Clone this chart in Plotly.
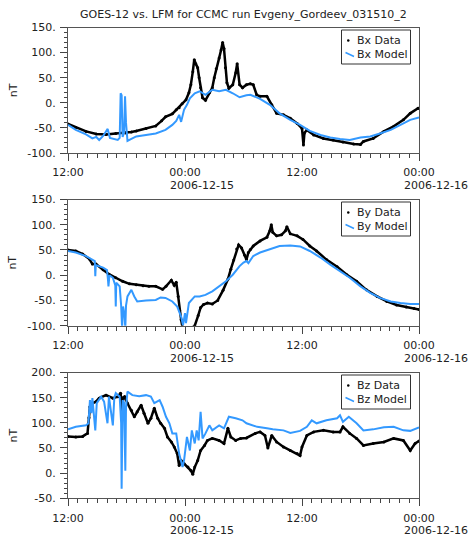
import pandas as pd
import plotly.graph_objects as go

# Time axis: hours elapsed since 2006-12-14 12:00 UT
START = pd.Timestamp("2006-12-14 12:00")

# ---- Bx (nT) ----
bx_data_h = [0, 0.8, 1.85, 2.9, 3.9, 4.9, 5.9, 6.5, 7.0, 8.0, 9.0, 9.6, 10.0, 10.7, 11.1,
             11.4, 11.7, 12.1, 12.4, 12.6, 12.8, 12.95, 13.1, 13.3, 13.45, 13.6, 13.8,
             14.1, 14.5, 14.8, 15.0, 15.2, 15.5, 15.7, 15.86, 16.0, 16.15, 16.3, 16.5,
             16.9, 17.2, 17.35, 17.6, 17.9, 18.3, 18.7, 19.0, 19.35, 19.7, 20.4, 20.9,
             21.4, 22.1, 22.8, 23.5, 24.0, 24.15, 24.25, 24.5, 25.2, 26.2, 27.2, 28.2,
             29.3, 30.0, 30.3, 31.3, 32.4, 33.4, 34.4, 35.1, 35.9, 36.0]
bx_data_v = [-42, -49, -57, -62, -63, -61, -60, -58, -56, -51, -46, -36, -28, -22, -14,
             -10, -2, 6, 20, 36, 62, 86, 78, 70, 50, 30, 10,
             5, 20, 30, 50, 68, 89, 105, 120, 108, 70, 40, 29,
             36, 60, 78, 36, 30, 36, 38, 36, 16, 13, 13, -4,
             -21, -24, -31, -41, -51, -84, -60, -54, -64, -71, -74, -78,
             -82, -83, -77, -71, -57, -47, -34, -21, -11, -11]
bx_model_h = [0, 0.8, 1.85, 2.5, 2.9, 3.2, 3.6, 4.07, 4.3, 4.7, 5.1, 5.3, 5.4, 5.5, 5.6,
              5.75, 5.85, 5.95, 6.1, 6.5, 7.0, 8.0, 9.0, 10.0, 10.7, 11.1, 11.4, 11.6,
              11.9, 12.2, 12.5, 13.0, 13.5, 14.1, 14.8, 15.5, 16.2, 16.9, 17.6, 18.3,
              18.7, 19.7, 20.7, 21.7, 22.8, 23.8, 24.8, 25.9, 26.9, 27.9, 28.9, 30.0,
              31.0, 32.0, 33.1, 34.1, 35.1, 36.0]
bx_model_v = [-44, -54, -63, -71, -68, -74, -66, -52, -70, -72, -74, -70, 19, 15, -68,
              -60, 13, -40, -76, -72, -67, -64, -61, -54, -44, -36, -24, -38,
              -14, -4, 9, 19, 23, 16, 26, 23, 26, 19, 11, 15,
              16, 8, -4, -21, -34, -44, -56, -64, -69, -72, -74, -69,
              -67, -61, -54, -44, -34, -29]

# ---- By (nT) ----
by_data_h = [0, 0.8, 1.5, 2.2, 2.5, 2.87, 3.6, 4.2, 4.9, 5.6, 6.3, 7.0, 7.7, 8.3, 9.0,
             9.7, 10.05, 10.6, 10.9, 11.1, 11.3, 11.45, 11.6, 11.75, 12.0, 12.7, 13.0,
             13.35, 13.6, 13.9, 14.3, 14.8, 15.35, 15.9, 16.4, 16.7, 17.0, 17.3, 17.5,
             17.8, 18.1, 18.3, 18.5, 18.7, 19.0, 19.7, 20.4, 20.7, 20.85, 21.0, 21.4,
             21.9, 22.3, 22.45, 22.8, 23.5, 24.1, 24.8, 25.5, 26.5, 27.6, 28.6, 29.6,
             30.6, 31.7, 32.7, 33.7, 34.7, 35.5, 36.0]
by_data_v = [50, 48, 42, 32, 22, 22, 11, 2, -5, -12, -17, -19, -21, -22, -22,
             -28, -22, -10, -20, -14, -42, -70, -88, -104, -110, -104, -100,
             -80, -64, -58, -55, -57, -50, -30, -8, 12, 30, 52, 60,
             54, 40, 31, 45, 51, 58, 68, 75, 88, 100, 85, 78,
             80, 88, 96, 82, 78, 71, 58, 48, 31, 17, 1, -12,
             -29, -42, -52, -59, -63, -66, -68]
by_model_h = [0, 0.8, 1.85, 2.5, 2.75, 2.8, 2.85, 3.6, 4.0, 4.1, 4.15, 4.25, 4.6, 4.85,
              4.9, 4.95, 5.3, 5.45, 5.5, 5.55, 5.65, 5.8, 5.88, 5.95, 6.1, 6.5, 6.8,
              7.1, 8.0, 9.0, 9.5, 10.0, 10.7, 11.2, 11.6, 11.8, 12.0, 12.1, 12.4, 13.0,
              13.5, 14.1, 14.8, 15.5, 16.2, 16.9, 17.6, 18.0, 18.3, 18.5, 19.0, 19.7,
              20.7, 21.7, 22.8, 23.8, 24.8, 25.9, 26.9, 27.9, 28.9, 30.0, 31.0, 32.0,
              33.1, 34.1, 35.1, 36.0]
by_model_v = [48, 45, 38, 31, 28, -2, 20, 15, 10, -9, -22, 0, -5, -20,
              -62, -15, -22, -60, -105, -105, -62, -80, -105, -60, -42, -29, -42,
              -52, -50, -49, -44, -45, -52, -62, -82, -99, -75, -95, -55, -42,
              -42, -39, -32, -22, -12, 1, 18, 25, 28, 24, 38, 45,
              51, 58, 59, 57, 48, 35, 21, 8, -5, -22, -35, -45,
              -52, -55, -57, -57]

# ---- Bz (nT) ----
bz_data_h = [0, 0.8, 1.5, 2.0, 2.15, 2.25, 2.53, 2.87, 3.2, 3.9, 4.6, 5.1, 5.4, 5.55,
             5.65, 5.8, 6.1, 6.5, 6.8, 7.1, 7.5, 7.8, 8.2, 8.5, 8.85, 9.2, 9.5, 9.9,
             10.2, 10.6, 10.9, 11.2, 11.4, 11.6, 11.9, 12.3, 12.6, 12.8, 13.0, 13.3,
             13.6, 14.0, 14.3, 14.8, 15.5, 16.0, 16.4, 16.7, 17.2, 17.7, 18.3, 19.2,
             19.7, 20.2, 20.5, 20.9, 21.4, 22.1, 22.8, 23.5, 23.8, 24.0, 24.5, 25.2,
             26.2, 27.2, 27.9, 28.2, 28.9, 29.6, 30.3, 31.3, 32.4, 33.4, 34.4, 35.1,
             35.6, 36.0]
bz_data_v = [73, 72, 73, 79, 110, 132, 139, 142, 149, 155, 149, 152, 159, 110,
             150, 152, 139, 125, 112, 122, 135, 119, 99, 109, 129, 109, 99, 89,
             72, 62, 52, 39, 15, 25, 19, 12, 5, -2, 12, 25,
             45, 55, 65, 69, 65, 59, 89, 72, 65, 69, 70, 79,
             82, 75, 50, 75, 62, 52, 45, 39, 35, 52, 75, 82,
             85, 82, 82, 92, 79, 69, 55, 59, 62, 69, 65, 45,
             59, 64]
bz_model_h = [0, 0.8, 1.85, 2.1, 2.25, 2.4, 2.5, 2.8, 2.95, 3.4, 3.7, 4.05, 4.2, 4.6,
              4.75, 4.9, 5.3, 5.45, 5.5, 5.6, 5.75, 5.88, 5.95, 6.1, 6.6, 7.3, 8.0,
              8.5, 8.85, 9.4, 9.7, 10.05, 10.4, 10.7, 11.1, 11.4, 11.75, 11.9, 12.2,
              12.5, 12.7, 13.0, 13.2, 13.4, 13.6, 13.8, 14.1, 14.5, 14.8, 15.5, 16.0,
              16.5, 17.2, 17.9, 18.3, 19.4, 20.4, 21.0, 22.1, 22.8, 23.8, 24.5, 25.0,
              25.5, 26.5, 27.6, 27.9, 28.2, 28.8, 29.6, 30.3, 31.3, 32.4, 33.4, 34.4,
              35.1, 36.0]
bz_model_v = [87, 92, 95, 99, 145, 119, 149, 85, 139, 152, 142, 99, 152, 95,
              150, 159, 152, 100, -31, 145, 140, 5, 130, 162, 155, 153, 155,
              152, 139, 145, 132, 112, 99, 79, 79, 39, 12, 25, 72,
              45, 85, 59, 85, 65, 122, 69, 79, 95, 85, 95, 89,
              112, 109, 105, 99, 92, 89, 87, 85, 80, 84, 92, 105,
              99, 105, 109, 115, 102, 112, 99, 85, 87, 91, 92, 85,
              84, 91]

# Axis ticks and labels
x_tick_hours = [0, 12, 24, 36]
x_tick_text = ["12:00", "00:00", "12:00", "00:00"]
x_date_text = ["", "2006-12-15", "", "2006-12-16"]
y_ticks_xy = [-100, -50, 0, 50, 100, 150]
y_ticks_z = [-50, 0, 50, 100, 150, 200]

TITLE = "GOES-12 vs. LFM for CCMC run Evgeny_Gordeev_031510_2"
BLUE = "#3399FF"
FONT = "DejaVu Sans"
FS = 11
TXT = "#222222"
W, H = 473, 536


def to_time(hours):
    return START + pd.to_timedelta(hours, unit="h")


def px(x):
    return x / W


def py(y):
    return 1 - y / H


panels = [
    dict(name="Bx", dh=bx_data_h, dv=bx_data_v, mh=bx_model_h, mv=bx_model_v,
         yt=y_ticks_xy, top=27.5, bottom=153.0),
    dict(name="By", dh=by_data_h, dv=by_data_v, mh=by_model_h, mv=by_model_v,
         yt=y_ticks_xy, top=199.5, bottom=325.7),
    dict(name="Bz", dh=bz_data_h, dv=bz_data_v, mh=bz_model_h, mv=bz_model_v,
         yt=y_ticks_z, top=372.5, bottom=498.3),
]

fig = go.Figure()
layout = dict(
    template="none",
    width=W, height=H,
    margin=dict(l=0, r=0, t=0, b=0, autoexpand=False),
    paper_bgcolor="white", plot_bgcolor="white",
    font=dict(family=FONT, size=FS, color=TXT),
    showlegend=False,
)
annotations = []
shapes = []
x_dom = [px(68), px(419)]
tick_times = to_time(x_tick_hours)

for i, p in enumerate(panels, start=1):
    sfx = "" if i == 1 else str(i)
    xa, ya = "x" + sfx, "y" + sfx

    # measured data: dense trace drawn as a thick curve plus dot markers
    fig.add_trace(go.Scatter(
        x=to_time(p["dh"]), y=p["dv"], mode="lines",
        line=dict(color="black", width=2.5), hoverinfo="skip",
        xaxis=xa, yaxis=ya))
    fig.add_trace(go.Scatter(
        x=to_time(p["dh"]), y=p["dv"], mode="markers",
        marker=dict(color="black", size=3), name=p["name"] + " Data",
        xaxis=xa, yaxis=ya))
    # model trace
    fig.add_trace(go.Scatter(
        x=to_time(p["mh"]), y=p["mv"], mode="lines",
        line=dict(color=BLUE, width=2), name=p["name"] + " Model",
        xaxis=xa, yaxis=ya))

    yd = [py(p["bottom"]), py(p["top"])]
    layout["xaxis" + sfx] = dict(
        domain=x_dom, anchor=ya, type="date", automargin=False,
        range=[tick_times[0], tick_times[-1]],
        tickmode="array", tickvals=list(tick_times), ticktext=x_tick_text,
        ticks="outside", ticklen=7, tickcolor="#444", tickwidth=1,
        minor=dict(dtick=3600000, ticks="outside", ticklen=4, tickcolor="#444",
                   showgrid=False),
        showline=True, linecolor="#555", linewidth=1, mirror=True,
        showgrid=False, zeroline=False, ticklabelstandoff=2,
        tickfont=dict(size=FS, color=TXT),
    )
    layout["yaxis" + sfx] = dict(
        domain=yd, anchor=xa, automargin=False,
        range=[p["yt"][0], p["yt"][-1]],
        tickmode="array", tickvals=p["yt"], ticktext=[f"{v}." for v in p["yt"]],
        ticks="outside", ticklen=7, tickcolor="#444", tickwidth=1,
        minor=dict(dtick=10, ticks="outside", ticklen=3, tickcolor="#444",
                   showgrid=False),
        showline=True, linecolor="#555", linewidth=1, mirror=True,
        showgrid=False, zeroline=False, ticklabelstandoff=2,
        tickfont=dict(size=FS, color=TXT),
    )

    # second label line (date) under the midnight ticks
    for t, d in zip(tick_times, x_date_text):
        if d:
            annotations.append(dict(
                x=t, y=0, xref=xa, yref=ya + " domain", text=d, showarrow=False,
                xanchor="left", yanchor="top", xshift=-16, yshift=-25,
                borderpad=0, font=dict(size=FS, color=TXT)))
    annotations.append(dict(
        x=px(13), y=(yd[0] + yd[1]) / 2, xref="paper", yref="paper", text="nT",
        textangle=-90, showarrow=False, xanchor="center", yanchor="middle",
        font=dict(size=FS, color=TXT)))

    # legend box: dot for data, short slanted line for model
    lt = p["top"] + 2.5
    r1, r2 = lt + 10.5, lt + 24.5
    shapes.append(dict(type="rect", xref="paper", yref="paper",
                       x0=px(341.5), x1=px(410.5), y0=py(lt + 34), y1=py(lt),
                       line=dict(color="#333", width=1), fillcolor="white",
                       layer="above"))
    shapes.append(dict(type="circle", xref="paper", yref="paper",
                       x0=px(347), x1=px(349.5), y0=py(r1 + 1.2), y1=py(r1 - 1.2),
                       line=dict(color="black", width=0), fillcolor="black",
                       layer="above"))
    shapes.append(dict(type="line", xref="paper", yref="paper",
                       x0=px(345.5), x1=px(354), y0=py(r2 - 2), y1=py(r2 + 2),
                       line=dict(color=BLUE, width=1.5), layer="above"))
    for txt, ry in ((p["name"] + " Data", r1), (p["name"] + " Model", r2)):
        annotations.append(dict(
            x=px(355), y=py(ry), xref="paper", yref="paper", text=txt,
            showarrow=False, xanchor="left", yanchor="middle",
            font=dict(size=FS, color=TXT)))

annotations.append(dict(
    x=(x_dom[0] + x_dom[1]) / 2, y=py(14), xref="paper", yref="paper",
    text=TITLE, showarrow=False, xanchor="center", yanchor="middle",
    font=dict(size=FS, color=TXT)))

layout["annotations"] = annotations
layout["shapes"] = shapes
fig.update_layout(**layout)
fig.write_html("out.html")
